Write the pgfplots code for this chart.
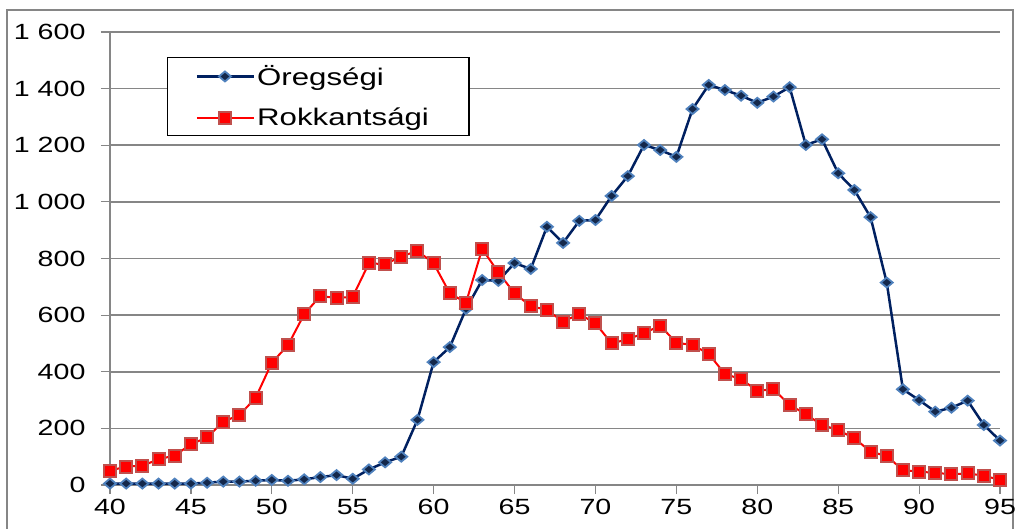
\documentclass[border=0pt]{standalone}
\usepackage{fontspec}
\setmainfont{Liberation Sans}[FakeStretch=1.3]
\usepackage{pgfplots}
\usepackage{pgfplotstable}
\pgfplotsset{compat=1.18}

\definecolor{gridgray}{RGB}{134,134,134}
\definecolor{navyline}{RGB}{0,32,96}
\definecolor{navyfill}{RGB}{20,40,75}
\definecolor{glowblue}{RGB}{79,129,189}
\definecolor{sqedge}{RGB}{192,80,77}

% age, number of pensioners
\pgfplotstableread{
age val
40 5
41 5
42 5
43 5
44 5
45 5
46 8
47 12
48 12
49 15
50 18
51 15
52 20
53 28
54 35
55 22
56 55
57 80
58 100
59 230
60 434
61 487
62 622
63 724
64 721
65 784
66 763
67 912
68 855
69 933
70 936
71 1021
72 1091
73 1201
74 1183
75 1159
76 1328
77 1413
78 1395
79 1375
80 1350
81 1372
82 1405
83 1201
84 1221
85 1101
86 1042
87 946
88 715
89 338
90 300
91 259
92 273
93 298
94 212
95 157
}\oregsegi

\pgfplotstableread{
age val
40 51
41 65
42 68
43 91
44 104
45 144
46 168
47 224
48 247
49 308
50 432
51 494
52 603
53 668
54 660
55 665
56 783
57 780
58 807
59 827
60 783
61 677
62 644
63 834
64 751
65 677
66 632
67 618
68 577
69 604
70 571
71 500
72 515
73 536
74 563
75 502
76 495
77 463
78 392
79 374
80 333
81 338
82 283
83 250
84 212
85 194
86 165
87 118
88 102
89 53
90 47
91 43
92 38
93 41
94 33
95 18
}\rokkant

\begin{document}
\begin{tikzpicture}
\path[use as bounding box] (0pt,0pt) rectangle (1019pt,528pt);
\draw[gridgray, line width=2pt] (7pt,-5pt) -- (7pt,518pt) -- (1013pt,518pt) -- (1013pt,-5pt);

\begin{axis}[
at={(110pt,43pt)}, anchor=south west,
scale only axis, width=890pt, height=453pt,
xmin=40, xmax=95, ymin=0, ymax=1600,
xtick={40,45,...,95}, ytick={0,200,...,1600},
axis x line*=bottom, axis y line*=left,
axis line style={gridgray, line width=1.2pt, -},
ymajorgrids,
grid style={gridgray, line width=1.5pt},
tick align=outside, major tick length=9pt,
tick style={gridgray, line width=1.2pt},
ticklabel style={font=\fontsize{22}{26}\selectfont},
yticklabel style={xshift=-12pt},
xticklabel style={yshift=-2pt},
/pgf/number format/assume math mode=true,
/pgf/number format/1000 sep={\ },
clip=false,
legend style={at={(0.064,0.945)}, anchor=north west, draw=black, line width=1.5pt,
  font=\fontsize{24}{28}\selectfont, inner xsep=28pt, inner ysep=6pt, row sep=17pt},
legend cell align=left,
legend image code/.code={\draw[#1, mark repeat=2, mark phase=2, mark size=4.5pt]
  plot coordinates {(0pt,0pt) (28pt,0pt) (57pt,0pt)};},
]
\addplot[navyline, line width=2.5pt, mark=diamond*,
  mark options={xscale=1.6, fill=navyfill, draw=glowblue, line width=1.8pt, mark size=5pt}]
  table[x=age, y=val] {\oregsegi};
\addlegendentry{Öregségi}
\addplot[red, line width=2pt, mark=square*,
  mark options={fill=red, draw=sqedge, line width=2pt, mark size=6pt}]
  table[x=age, y=val] {\rokkant};
\addlegendentry{Rokkantsági\hspace*{10pt}}
\end{axis}
\end{tikzpicture}
\end{document}
